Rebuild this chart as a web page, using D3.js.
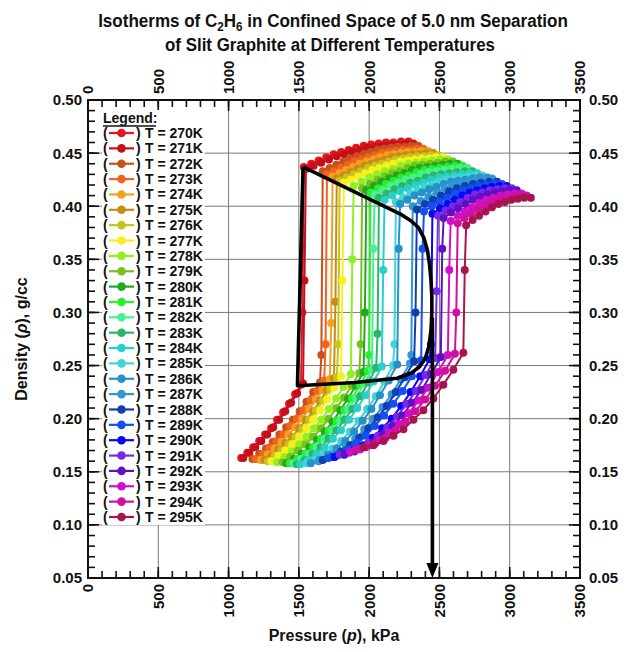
<!DOCTYPE html>
<html>
<head>
<meta charset="utf-8">
<script src="https://cdn.jsdelivr.net/npm/d3@7"></script>
<style>
  body { margin: 0; background: #fff; }
  svg { display: block; }
  text { font-family: "Liberation Sans", Arial, Helvetica, sans-serif; font-weight: bold; fill: #111; }
</style>
</head>
<body>
<svg id="chart" width="629" height="652"></svg>
<script>
// Simulated isotherms: [pressure (kPa), density (g/cc)]
const T270 = [[1090,.163],[1133,.168],[1175,.173],[1218,.179],[1260,.185],[1303,.191],[1345,.199],[1388,.206],[1430,.214],[1473,.223],[1515,.232],[1525,.300],[1535,.437],[1588,.440],[1641,.443],[1695,.446],[1748,.449],[1801,.451],[1854,.453],[1907,.455],[1961,.457],[2014,.458],[2067,.459],[2120,.460],[2173,.460],[2227,.461],[2280,.461]];
const T271 = [[1105,.163],[1148,.168],[1190,.173],[1233,.179],[1275,.185],[1318,.192],[1360,.199],[1403,.207],[1445,.215],[1488,.224],[1530,.233],[1540,.330],[1550,.435],[1605,.438],[1659,.441],[1714,.444],[1769,.447],[1823,.449],[1878,.451],[1932,.453],[1987,.455],[2042,.456],[2096,.457],[2151,.458],[2205,.458],[2260,.459],[2315,.459]];
const T272 = [[1170,.162],[1218,.167],[1266,.172],[1314,.178],[1362,.185],[1410,.192],[1458,.199],[1506,.207],[1554,.216],[1602,.225],[1650,.234],[1660,.260],[1670,.433],[1719,.436],[1767,.439],[1816,.442],[1864,.445],[1913,.447],[1961,.449],[2010,.451],[2059,.453],[2107,.454],[2156,.455],[2204,.456],[2253,.456],[2301,.457],[2350,.457]];
const T273 = [[1195,.162],[1244,.167],[1292,.173],[1341,.179],[1389,.185],[1438,.193],[1486,.200],[1535,.208],[1583,.217],[1632,.226],[1680,.236],[1690,.270],[1700,.430],[1749,.433],[1798,.436],[1847,.439],[1896,.442],[1945,.444],[1993,.446],[2042,.448],[2091,.450],[2140,.451],[2189,.452],[2238,.453],[2287,.453],[2336,.454],[2385,.454]];
const T274 = [[1230,.161],[1279,.166],[1328,.172],[1377,.178],[1426,.185],[1475,.192],[1524,.200],[1573,.209],[1622,.218],[1671,.227],[1720,.237],[1730,.290],[1740,.428],[1789,.431],[1837,.434],[1886,.437],[1934,.440],[1983,.442],[2031,.444],[2080,.446],[2129,.448],[2177,.449],[2226,.450],[2274,.451],[2323,.451],[2371,.452],[2420,.452]];
const T275 = [[1255,.161],[1305,.165],[1354,.171],[1404,.177],[1453,.183],[1503,.191],[1552,.199],[1602,.207],[1651,.217],[1701,.227],[1750,.238],[1760,.310],[1770,.426],[1819,.429],[1868,.432],[1917,.435],[1966,.438],[2015,.440],[2063,.442],[2112,.444],[2161,.446],[2210,.447],[2259,.448],[2308,.449],[2357,.449],[2406,.450],[2455,.450]];
const T276 = [[1280,.160],[1329,.165],[1378,.170],[1427,.176],[1476,.183],[1525,.190],[1574,.199],[1623,.208],[1672,.217],[1721,.228],[1770,.239],[1780,.270],[1790,.424],[1840,.427],[1890,.430],[1940,.433],[1990,.436],[2040,.438],[2090,.440],[2140,.442],[2190,.444],[2240,.445],[2290,.446],[2340,.447],[2390,.447],[2440,.448],[2490,.448]];
const T277 = [[1305,.160],[1355,.165],[1404,.170],[1454,.176],[1503,.183],[1553,.191],[1602,.199],[1652,.208],[1701,.218],[1751,.229],[1800,.240],[1810,.330],[1820,.422],[1870,.425],[1921,.428],[1971,.431],[2022,.434],[2072,.436],[2122,.438],[2173,.440],[2223,.442],[2274,.443],[2324,.444],[2374,.445],[2425,.445],[2475,.446],[2525,.446]];
const T278 = [[1345,.159],[1398,.164],[1450,.169],[1503,.176],[1555,.183],[1608,.191],[1660,.199],[1713,.209],[1765,.219],[1818,.230],[1870,.242],[1880,.350],[1890,.419],[1946,.423],[2002,.427],[2057,.430],[2113,.433],[2169,.435],[2225,.438],[2281,.440],[2336,.441],[2392,.442],[2448,.443],[2504,.444],[2560,.444]];
const T279 = [[1385,.159],[1440,.164],[1494,.170],[1549,.176],[1603,.183],[1658,.191],[1712,.200],[1767,.210],[1821,.220],[1876,.231],[1930,.243],[1940,.270],[1950,.417],[2004,.421],[2058,.425],[2111,.428],[2165,.431],[2219,.433],[2273,.436],[2326,.438],[2380,.439],[2434,.440],[2488,.441],[2541,.442],[2595,.442]];
const T280 = [[1410,.158],[1465,.162],[1520,.167],[1575,.173],[1630,.180],[1685,.188],[1740,.197],[1795,.208],[1850,.219],[1905,.231],[1960,.244],[1970,.300],[1980,.415],[2034,.419],[2088,.423],[2143,.426],[2197,.429],[2251,.431],[2305,.434],[2359,.436],[2413,.437],[2468,.438],[2522,.439],[2576,.440],[2630,.440]];
const T281 = [[1435,.158],[1491,.162],[1546,.167],[1602,.173],[1657,.181],[1713,.189],[1768,.198],[1824,.208],[1879,.219],[1935,.232],[1990,.245],[2000,.260],[2010,.413],[2065,.417],[2119,.421],[2174,.424],[2228,.427],[2283,.429],[2338,.432],[2392,.434],[2447,.435],[2501,.436],[2556,.437],[2610,.438],[2665,.438]];
const T282 = [[1460,.158],[1516,.162],[1572,.167],[1628,.174],[1684,.181],[1740,.189],[1796,.198],[1852,.209],[1908,.220],[1964,.233],[2020,.246],[2030,.360],[2040,.411],[2095,.415],[2150,.419],[2205,.422],[2260,.425],[2315,.427],[2370,.430],[2425,.432],[2480,.433],[2535,.434],[2590,.435],[2645,.436],[2700,.436]];
const T283 = [[1485,.157],[1542,.161],[1598,.167],[1655,.173],[1711,.181],[1768,.189],[1824,.199],[1881,.209],[1937,.221],[1994,.234],[2050,.248],[2060,.280],[2070,.408],[2125,.412],[2181,.416],[2236,.419],[2292,.422],[2347,.424],[2403,.427],[2458,.429],[2513,.430],[2569,.431],[2624,.432],[2680,.433],[2735,.433]];
const T284 = [[1510,.157],[1568,.161],[1626,.167],[1684,.173],[1742,.181],[1800,.189],[1858,.199],[1916,.210],[1974,.222],[2032,.235],[2090,.249],[2100,.340],[2110,.406],[2165,.410],[2220,.414],[2275,.417],[2330,.420],[2385,.422],[2440,.425],[2495,.427],[2550,.428],[2605,.429],[2660,.430],[2715,.431],[2770,.431]];
const T285 = [[1555,.158],[1617,.161],[1678,.166],[1740,.172],[1801,.179],[1863,.188],[1924,.198],[1986,.209],[2047,.221],[2109,.235],[2170,.250],[2180,.270],[2190,.404],[2241,.408],[2293,.412],[2344,.415],[2395,.418],[2446,.420],[2498,.423],[2549,.425],[2600,.426],[2651,.427],[2703,.428],[2754,.429],[2805,.429]];
const T286 = [[1585,.158],[1647,.161],[1708,.166],[1770,.172],[1831,.179],[1893,.188],[1954,.198],[2016,.209],[2077,.222],[2139,.236],[2200,.251],[2210,.360],[2220,.402],[2272,.406],[2323,.410],[2375,.413],[2427,.416],[2478,.418],[2530,.421],[2582,.423],[2633,.424],[2685,.425],[2737,.426],[2788,.427],[2840,.427]];
const T287 = [[1640,.160],[1705,.163],[1770,.168],[1835,.174],[1900,.181],[1965,.190],[2030,.200],[2095,.211],[2160,.223],[2225,.237],[2290,.252],[2300,.260],[2310,.400],[2367,.405],[2423,.409],[2480,.413],[2536,.417],[2593,.420],[2649,.422],[2706,.424],[2762,.425],[2819,.426],[2875,.426]];
const T288 = [[1670,.161],[1735,.164],[1800,.169],[1865,.175],[1930,.182],[1995,.191],[2060,.201],[2125,.212],[2190,.225],[2255,.239],[2320,.254],[2330,.300],[2340,.397],[2397,.402],[2454,.406],[2511,.410],[2568,.414],[2625,.417],[2682,.419],[2739,.421],[2796,.422],[2853,.423],[2910,.423]];
const T289 = [[1710,.163],[1776,.166],[1842,.171],[1908,.177],[1974,.184],[2040,.193],[2106,.203],[2172,.214],[2238,.226],[2304,.240],[2370,.255],[2380,.360],[2390,.395],[2446,.400],[2501,.404],[2557,.408],[2612,.412],[2668,.415],[2723,.417],[2779,.419],[2834,.420],[2890,.421],[2945,.421]];
const T290 = [[1755,.164],[1823,.166],[1890,.170],[1958,.175],[2025,.182],[2093,.191],[2160,.200],[2228,.212],[2295,.225],[2363,.240],[2430,.256],[2440,.270],[2450,.393],[2503,.398],[2556,.402],[2609,.406],[2662,.410],[2715,.413],[2768,.415],[2821,.417],[2874,.418],[2927,.419],[2980,.419]];
const T291 = [[1790,.166],[1858,.168],[1926,.172],[1994,.177],[2062,.184],[2130,.192],[2198,.202],[2266,.214],[2334,.226],[2402,.241],[2470,.257],[2480,.320],[2490,.391],[2543,.396],[2595,.400],[2648,.404],[2700,.408],[2753,.411],[2805,.413],[2858,.415],[2910,.416],[2963,.417],[3015,.417]];
const T292 = [[1825,.167],[1894,.169],[1962,.173],[2031,.178],[2099,.185],[2168,.193],[2236,.203],[2305,.215],[2373,.227],[2442,.242],[2510,.258],[2520,.360],[2530,.389],[2582,.394],[2634,.398],[2686,.402],[2738,.406],[2790,.409],[2842,.411],[2894,.413],[2946,.414],[2998,.415],[3050,.415]];
const T293 = [[1865,.169],[1935,.171],[2004,.175],[2074,.180],[2143,.187],[2213,.195],[2282,.205],[2352,.217],[2421,.229],[2491,.244],[2560,.260],[2570,.340],[2580,.386],[2631,.391],[2681,.395],[2732,.399],[2782,.403],[2833,.406],[2883,.408],[2934,.410],[2984,.411],[3035,.412],[3085,.412]];
const T294 = [[1905,.171],[1976,.173],[2046,.177],[2117,.182],[2187,.189],[2258,.197],[2328,.207],[2399,.218],[2469,.231],[2540,.245],[2610,.261],[2620,.300],[2630,.384],[2679,.389],[2728,.393],[2777,.397],[2826,.401],[2875,.404],[2924,.406],[2973,.408],[3022,.409],[3071,.410],[3120,.410]];
const T295 = [[1960,.173],[2031,.175],[2102,.179],[2173,.184],[2244,.190],[2315,.199],[2386,.208],[2457,.219],[2528,.232],[2599,.246],[2670,.262],[2680,.340],[2690,.382],[2736,.387],[2782,.391],[2828,.395],[2874,.399],[2920,.402],[2966,.404],[3012,.406],[3058,.407],[3104,.408],[3150,.408]];

const temperatures = [270,271,272,273,274,275,276,277,278,279,280,281,282,283,284,285,286,287,288,289,290,291,292,293,294,295];
const isotherms = [T270,T271,T272,T273,T274,T275,T276,T277,T278,T279,T280,T281,T282,T283,T284,T285,T286,T287,T288,T289,T290,T291,T292,T293,T294,T295];
const seriesColors = ["#e8161c","#c4101c","#c8501c","#f06420","#f5a020","#c88a18","#c8c41c","#f8f01c","#90f020","#78c020",
                      "#20a820","#28f028","#48f090","#28b868","#28d0c8","#40d4d4","#2890c8","#3098d0","#1040b0","#1450f0",
                      "#0808f0","#7828e8","#6010c0","#d010c8","#d010a0","#a81450"];

// Two-phase envelope (black outline)
const envelopeP = [1530,2230,2300,2350,2390,2415,2430,2440,2446,2446,2440,2425,2400,2360,2300,2200,1900,1490,1530];
const envelopeD = [.437,.392,.386,.380,.370,.358,.345,.330,.315,.300,.283,.268,.257,.249,.243,.238,.234,.231,.437];
// Arrow marking the pressure on the axis
const arrowP = 2450, arrowFromD = 0.295, arrowToD = 0.05;

const xTicks = [0,500,1000,1500,2000,2500,3000,3500];
const yTicks = [0.05,0.10,0.15,0.20,0.25,0.30,0.35,0.40,0.45,0.50];
const yTickLabels = ["0.05","0.10","0.15","0.20","0.25","0.30","0.35","0.40","0.45","0.50"];

const svg = d3.select("#chart");
const L = 88, R = 580, T = 100, B = 578;
const x = d3.scaleLinear().domain([0, 3500]).range([L, R]);
const y = d3.scaleLinear().domain([0.05, 0.50]).range([B, T]);

// grid
const grid = svg.append("g").attr("stroke", "#7a7a7a").attr("stroke-width", 1);
grid.selectAll("line.gx").data(xTicks).join("line")
  .attr("x1", d => x(d)).attr("x2", d => x(d)).attr("y1", T).attr("y2", B);
grid.selectAll("line.gy").data(yTicks).join("line")
  .attr("y1", d => y(d)).attr("y2", d => y(d)).attr("x1", L).attr("x2", R);

// tick marks on all four sides (pointing inward)
const minorX = d3.range(0, 3501, 100);
const minorY = d3.range(5, 51, 1).map(v => v / 100);
const ticks = svg.append("g").attr("stroke", "#111").attr("stroke-width", 1.6);
function tickSet(vals, len) {
  vals.forEach(v => {
    ticks.append("line").attr("x1", x(v)).attr("x2", x(v)).attr("y1", B).attr("y2", B - len);
    ticks.append("line").attr("x1", x(v)).attr("x2", x(v)).attr("y1", T).attr("y2", T + len);
  });
}
function tickSetY(vals, len) {
  vals.forEach(v => {
    ticks.append("line").attr("y1", y(v)).attr("y2", y(v)).attr("x1", L).attr("x2", L + len);
    ticks.append("line").attr("y1", y(v)).attr("y2", y(v)).attr("x1", R).attr("x2", R - len);
  });
}
tickSet(minorX, 7); tickSet(xTicks, 11);
tickSetY(minorY, 7); tickSetY(yTicks, 11);

// isotherms
const line = d3.line().x(d => x(d[0])).y(d => y(d[1]));
const plot = svg.append("g");
isotherms.forEach((pts, i) => {
  const g = plot.append("g");
  g.append("path").datum(pts).attr("d", line)
    .attr("fill", "none").attr("stroke", seriesColors[i]).attr("stroke-width", 2);
  g.selectAll("circle").data(pts).join("circle")
    .attr("cx", d => x(d[0])).attr("cy", d => y(d[1])).attr("r", 4)
    .attr("fill", seriesColors[i]);
});

// envelope
const env = envelopeP.map((p, i) => [p, envelopeD[i]]);
svg.append("path").datum(env).attr("d", d3.line().x(d => x(d[0])).y(d => y(d[1])).curve(d3.curveLinear))
  .attr("fill", "none").attr("stroke", "#000").attr("stroke-width", 3.6).attr("stroke-linejoin", "round");

// arrow
const ax = x(arrowP), ay0 = y(arrowFromD), ay1 = y(arrowToD);
svg.append("line").attr("x1", ax).attr("x2", ax).attr("y1", ay0).attr("y2", ay1 - 12)
  .attr("stroke", "#000").attr("stroke-width", 3.6);
svg.append("path")
  .attr("d", `M${ax},${ay1} L${ax - 6},${ay1 - 15} L${ax + 6},${ay1 - 15} Z`)
  .attr("fill", "#000");

// frame
svg.append("rect").attr("x", L).attr("y", T).attr("width", R - L).attr("height", B - T)
  .attr("fill", "none").attr("stroke", "#111").attr("stroke-width", 2);

// tick labels
const tl = svg.append("g").attr("font-size", 15);
yTicks.forEach((v, i) => {
  tl.append("text").attr("x", L - 6).attr("y", y(v)).attr("dy", "0.36em")
    .attr("text-anchor", "end").text(yTickLabels[i]);
  tl.append("text").attr("x", R + 9).attr("y", y(v)).attr("dy", "0.36em")
    .attr("text-anchor", "start").text(yTickLabels[i]);
});
xTicks.forEach(v => {
  tl.append("text").attr("transform", `translate(${x(v)},${B + 6}) rotate(-90)`)
    .attr("dy", "0.36em").attr("text-anchor", "end").text(v);
  tl.append("text").attr("transform", `translate(${x(v)},${T - 6}) rotate(-90)`)
    .attr("dy", "0.36em").attr("text-anchor", "start").text(v);
});

// axis titles
const xt = svg.append("text").attr("x", (L + R) / 2).attr("y", 641).attr("font-size", 16)
  .attr("text-anchor", "middle");
xt.append("tspan").text("Pressure (");
xt.append("tspan").attr("font-style", "italic").text("p");
xt.append("tspan").text("), kPa");
const yt = svg.append("text").attr("transform", `translate(27,${(T + B) / 2}) rotate(-90)`)
  .attr("font-size", 16).attr("text-anchor", "middle");
yt.append("tspan").text("Density (");
yt.append("tspan").attr("font-style", "italic").text("ρ");
yt.append("tspan").text("), g/cc");

// title: condensed by a horizontal scale so each line spans its target width
function titleLine(cx, cy, width, build) {
  const g = svg.append("g");
  const t = g.append("text").attr("font-size", 19).attr("text-anchor", "middle");
  build(t);
  const len = t.node().getComputedTextLength();
  g.attr("transform", `translate(${cx},${cy}) scale(${width / len},1)`);
}
titleLine(333, 27, 470, t => {
  t.append("tspan").text("Isotherms of C");
  t.append("tspan").attr("baseline-shift", "-4").attr("font-size", 13).text("2");
  t.append("tspan").text("H");
  t.append("tspan").attr("baseline-shift", "-4").attr("font-size", 13).text("6");
  t.append("tspan").text(" in Confined Space of 5.0 nm Separation");
});
titleLine(330, 51, 330, t => t.text("of Slit Graphite at Different Temperatures"));

// legend
const lg = svg.append("g");
lg.append("rect").attr("x", 102).attr("y", 110).attr("width", 103).attr("height", 415).attr("fill", "#fff");
lg.append("text").attr("x", 103).attr("y", 123).attr("font-size", 14).text("Legend:");
lg.append("line").attr("x1", 103).attr("x2", 156).attr("y1", 126).attr("y2", 126)
  .attr("stroke", "#111").attr("stroke-width", 1.4);
temperatures.forEach((tK, i) => {
  const ry = 133 + i * 15.36;
  const row = lg.append("g");
  row.append("text").attr("x", 103).attr("y", ry).attr("dy", "0.36em").attr("font-size", 14).text("(");
  row.append("line").attr("x1", 109).attr("x2", 134).attr("y1", ry).attr("y2", ry)
    .attr("stroke", seriesColors[i]).attr("stroke-width", 2.2);
  row.append("circle").attr("cx", 121.5).attr("cy", ry).attr("r", 4.3).attr("fill", seriesColors[i]);
  row.append("text").attr("x", 136).attr("y", ry).attr("dy", "0.36em").attr("font-size", 14).text(")");
  row.append("text").attr("x", 145).attr("y", ry).attr("dy", "0.36em").attr("font-size", 14).text(`T = ${tK}K`);
});
</script>
</body>
</html>
